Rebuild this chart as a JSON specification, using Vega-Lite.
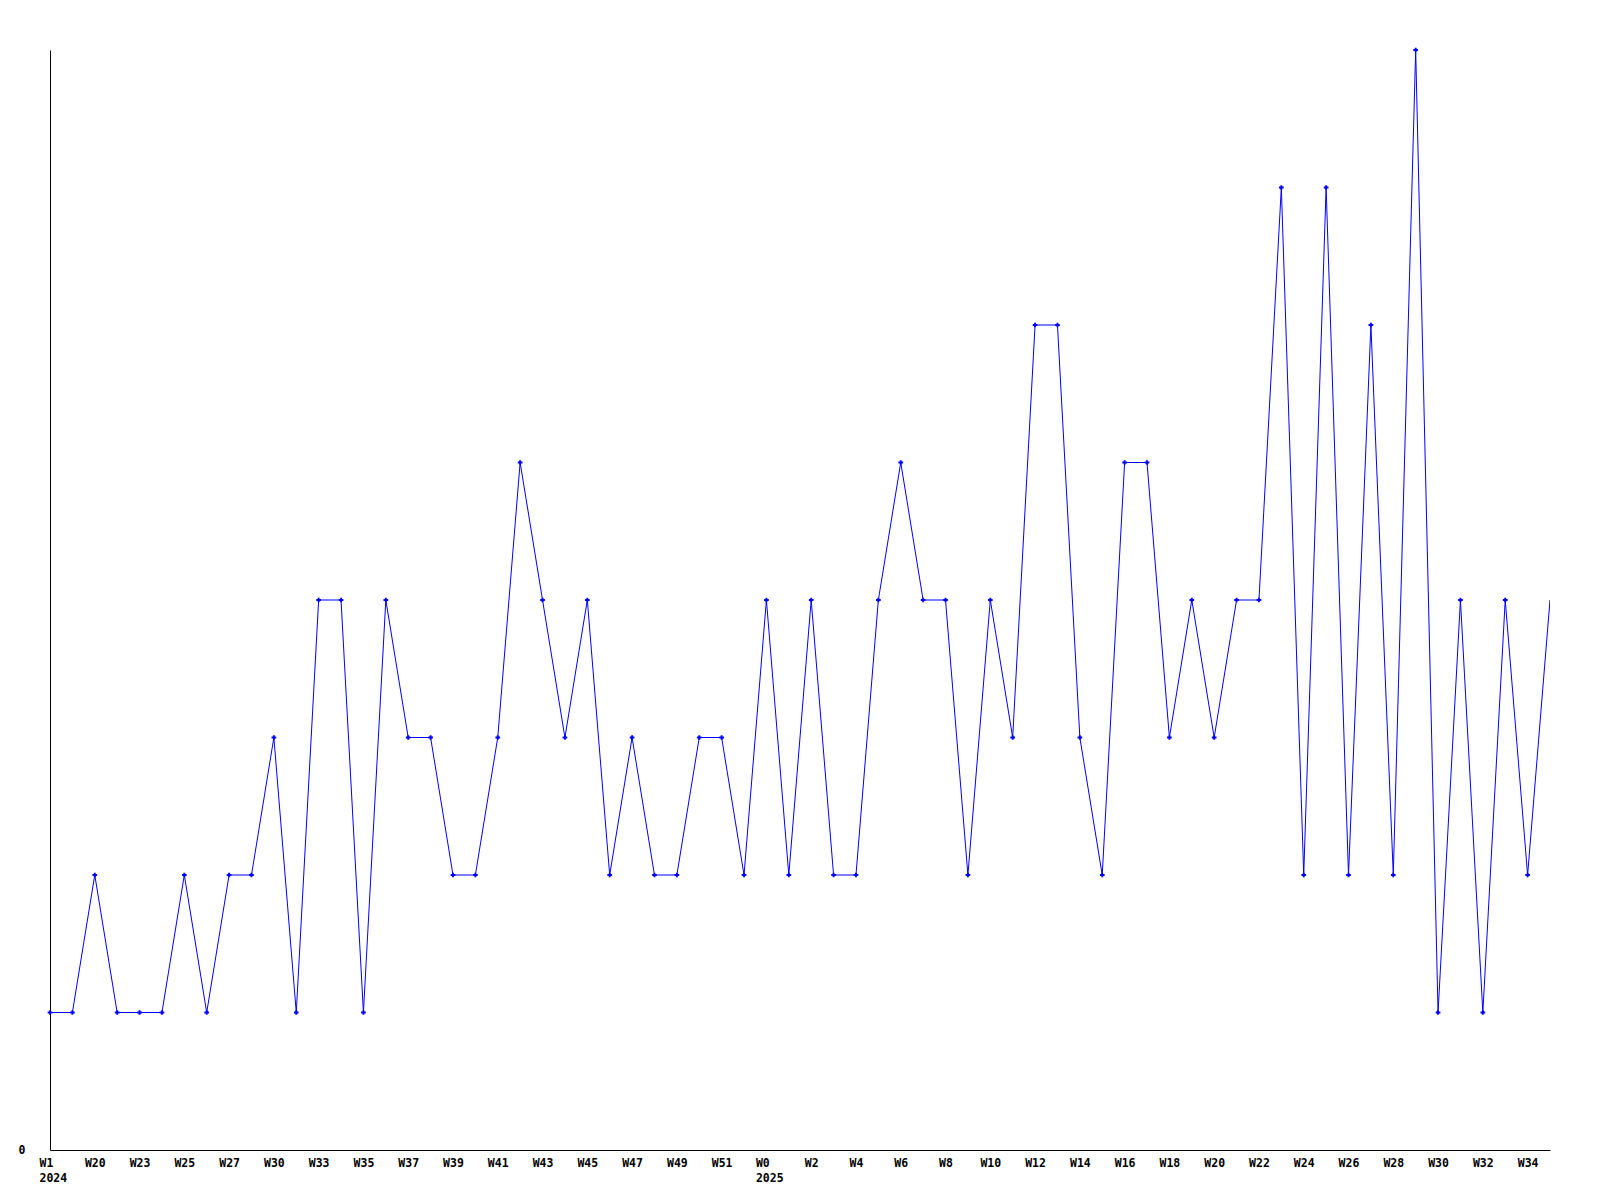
{
  "$schema": "https://vega.github.io/schema/vega-lite/v6.json",
  "autosize": {"type": "none"},
  "width": 1500,
  "height": 1100,
  "padding": {"left": 50, "top": 50, "right": 50, "bottom": 50},
  "background": "white",
  "config": {"view": {"stroke": null}},
  "data": {"values": [
    {"week": "2024 W1", "count": 1},
    {"week": "2024 W19", "count": 1},
    {"week": "2024 W20", "count": 2},
    {"week": "2024 W22", "count": 1},
    {"week": "2024 W23", "count": 1},
    {"week": "2024 W24", "count": 1},
    {"week": "2024 W25", "count": 2},
    {"week": "2024 W26", "count": 1},
    {"week": "2024 W27", "count": 2},
    {"week": "2024 W29", "count": 2},
    {"week": "2024 W30", "count": 3},
    {"week": "2024 W32", "count": 1},
    {"week": "2024 W33", "count": 4},
    {"week": "2024 W34", "count": 4},
    {"week": "2024 W35", "count": 1},
    {"week": "2024 W36", "count": 4},
    {"week": "2024 W37", "count": 3},
    {"week": "2024 W38", "count": 3},
    {"week": "2024 W39", "count": 2},
    {"week": "2024 W40", "count": 2},
    {"week": "2024 W41", "count": 3},
    {"week": "2024 W42", "count": 5},
    {"week": "2024 W43", "count": 4},
    {"week": "2024 W44", "count": 3},
    {"week": "2024 W45", "count": 4},
    {"week": "2024 W46", "count": 2},
    {"week": "2024 W47", "count": 3},
    {"week": "2024 W48", "count": 2},
    {"week": "2024 W49", "count": 2},
    {"week": "2024 W50", "count": 3},
    {"week": "2024 W51", "count": 3},
    {"week": "2024 W52", "count": 2},
    {"week": "2025 W0", "count": 4},
    {"week": "2025 W1", "count": 2},
    {"week": "2025 W2", "count": 4},
    {"week": "2025 W3", "count": 2},
    {"week": "2025 W4", "count": 2},
    {"week": "2025 W5", "count": 4},
    {"week": "2025 W6", "count": 5},
    {"week": "2025 W7", "count": 4},
    {"week": "2025 W8", "count": 4},
    {"week": "2025 W9", "count": 2},
    {"week": "2025 W10", "count": 4},
    {"week": "2025 W11", "count": 3},
    {"week": "2025 W12", "count": 6},
    {"week": "2025 W13", "count": 6},
    {"week": "2025 W14", "count": 3},
    {"week": "2025 W15", "count": 2},
    {"week": "2025 W16", "count": 5},
    {"week": "2025 W17", "count": 5},
    {"week": "2025 W18", "count": 3},
    {"week": "2025 W19", "count": 4},
    {"week": "2025 W20", "count": 3},
    {"week": "2025 W21", "count": 4},
    {"week": "2025 W22", "count": 4},
    {"week": "2025 W23", "count": 7},
    {"week": "2025 W24", "count": 2},
    {"week": "2025 W25", "count": 7},
    {"week": "2025 W26", "count": 2},
    {"week": "2025 W27", "count": 6},
    {"week": "2025 W28", "count": 2},
    {"week": "2025 W29", "count": 8},
    {"week": "2025 W30", "count": 1},
    {"week": "2025 W31", "count": 4},
    {"week": "2025 W32", "count": 1},
    {"week": "2025 W33", "count": 4},
    {"week": "2025 W34", "count": 2},
    {"week": "2025 W35", "count": 4}
  ]},
  "encoding": {
    "x": {
      "field": "week",
      "type": "ordinal",
      "sort": null,
      "scale": {"type": "point", "padding": 0},
      "axis": {
        "title": null,
        "values": ["2024 W1", "2024 W20", "2024 W23", "2024 W25", "2024 W27", "2024 W30", "2024 W33", "2024 W35", "2024 W37", "2024 W39", "2024 W41", "2024 W43", "2024 W45", "2024 W47", "2024 W49", "2024 W51", "2025 W0", "2025 W2", "2025 W4", "2025 W6", "2025 W8", "2025 W10", "2025 W12", "2025 W14", "2025 W16", "2025 W18", "2025 W20", "2025 W22", "2025 W24", "2025 W26", "2025 W28", "2025 W30", "2025 W32", "2025 W34"],
        "labelExpr": "(datum.value == '2024 W1' || datum.value == '2025 W0') ? [split(datum.value, ' ')[1], split(datum.value, ' ')[0]] : split(datum.value, ' ')[1]",
        "labelAlign": {"condition": {"test": "datum.value == '2024 W1' || datum.value == '2025 W0'", "value": "left"}, "value": "center"},
        "labelOffset": {"condition": {"test": "datum.value == '2024 W1' || datum.value == '2025 W0'", "value": -11}, "value": 0},
        "labelAngle": 0,
        "labelOverlap": false,
        "labelBound": false,
        "labelFont": "DejaVu Sans Mono",
        "labelFontWeight": "bold",
        "labelFontSize": 11.5,
        "labelColor": "black",
        "labelPadding": 7,
        "labelLineHeight": 15,
        "labelBaseline": "top",
        "ticks": false,
        "grid": false,
        "domainColor": "black",
        "domainWidth": 1
      }
    },
    "y": {
      "field": "count",
      "type": "quantitative",
      "scale": {"domain": [0, 8], "nice": false},
      "axis": {
        "title": null,
        "values": [0],
        "ticks": false,
        "grid": false,
        "labelFont": "DejaVu Sans Mono",
        "labelFontWeight": "bold",
        "labelFontSize": 11.5,
        "labelColor": "black",
        "labelPadding": 25,
        "domainColor": "black",
        "domainWidth": 1
      }
    }
  },
  "layer": [
    {
      "mark": {"type": "line", "color": "#0000ff", "strokeWidth": 1, "clip": true}
    },
    {
      "transform": [{"filter": "datum.week != '2025 W35'"}],
      "mark": {"type": "point", "shape": "cross", "size": 22, "filled": true, "color": "#0000ff", "opacity": 1}
    }
  ]
}
